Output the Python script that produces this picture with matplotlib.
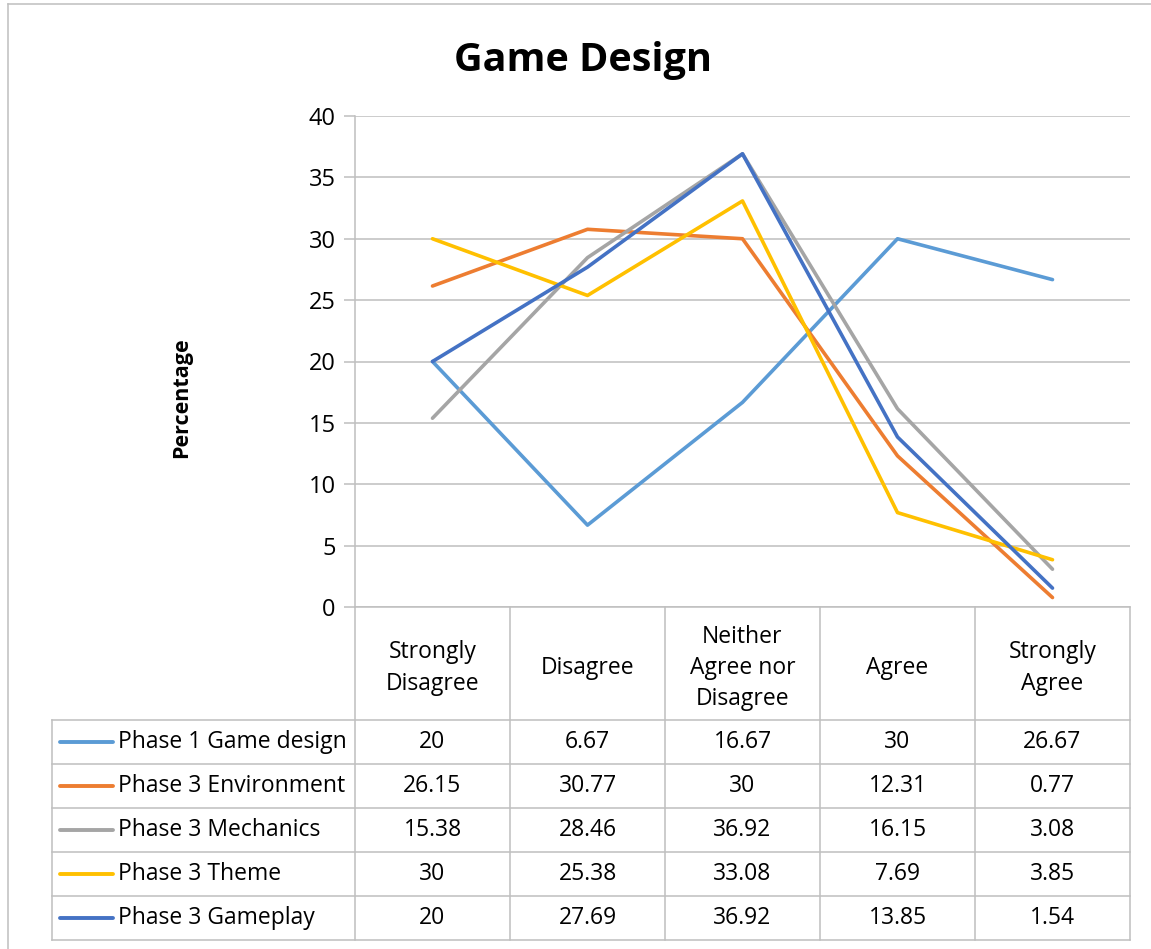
import matplotlib.pyplot as plt
from matplotlib.lines import Line2D

plt.rcParams['font.family'] = ['Open Sans', 'DejaVu Sans']

categories = ["Strongly\nDisagree", "Disagree", "Neither\nAgree nor\nDisagree", "Agree", "Strongly\nAgree"]
series_names = ["Phase 1 Game design", "Phase 3 Environment", "Phase 3 Mechanics",
                "Phase 3 Theme", "Phase 3 Gameplay"]
phase1_game_design = [20, 6.67, 16.67, 30, 26.67]
phase3_environment = [26.15, 30.77, 30, 12.31, 0.77]
phase3_mechanics = [15.38, 28.46, 36.92, 16.15, 3.08]
phase3_theme = [30, 25.38, 33.08, 7.69, 3.85]
phase3_gameplay = [20, 27.69, 36.92, 13.85, 1.54]
yticks = [0, 5, 10, 15, 20, 25, 30, 35, 40]

series = [phase1_game_design, phase3_environment, phase3_mechanics, phase3_theme, phase3_gameplay]
colors = ["#5B9BD5", "#ED7D31", "#A5A5A5", "#FFC000", "#4472C4"]

W, H = 1151, 949
fig = plt.figure(figsize=(W / 100, H / 100), dpi=100)


def fx(px):
    return px / W


def fy(py):
    return 1 - py / H


grid_c = "#BFBFBF"
x0, x1 = 355, 1130
y_top, y_zero = 116, 607
col_w = (x1 - x0) / len(categories)
fs = 16.5

ax = fig.add_axes([fx(x0), fy(y_zero), fx(x1) - fx(x0), fy(y_top) - fy(y_zero)])
for name, vals, c in zip(series_names, series, colors):
    ax.plot(range(len(vals)), vals, color=c, lw=2.6, solid_capstyle='round', zorder=3)
ax.set_xlim(-0.5, len(categories) - 0.5)
ax.set_ylim(0, 40)
ax.set_yticks(yticks)
ax.set_xticks([])
ax.yaxis.grid(True, color=grid_c, lw=1.1)
ax.set_axisbelow(True)
for s in ["top", "right", "bottom"]:
    ax.spines[s].set_visible(False)
ax.spines["left"].set_color(grid_c)
ax.spines["left"].set_linewidth(1.1)
ax.tick_params(axis='y', length=8, color=grid_c, width=1.1, labelsize=17, pad=6)

fig.text(fx(583), fy(60), "Game Design", ha='center', va='center', fontsize=28.5, fontweight='bold')
fig.text(fx(182), fy(398), "Percentage", ha='center', va='center', rotation=90,
         fontsize=15.5, fontweight='bold')


def hline(y, xa, xb):
    fig.add_artist(Line2D([fx(xa), fx(xb)], [fy(y), fy(y)], color=grid_c, lw=1.1))


def vline(x, ya, yb):
    fig.add_artist(Line2D([fx(x), fx(x)], [fy(ya), fy(yb)], color=grid_c, lw=1.1))


# outer chart frame
hline(4, 8, W)
vline(8, 4, H)

# data table
header_bottom = 720
row_h = 44
n_rows = len(series)
table_bottom = header_bottom + row_h * n_rows
legend_left = 52
hline(y_zero, x0, x1)
for i in range(len(categories) + 1):
    vline(x0 + i * col_w, y_zero, table_bottom)
vline(legend_left, header_bottom, table_bottom)
for r in range(n_rows + 1):
    hline(header_bottom + r * row_h, legend_left, x1)

for i, cat in enumerate(categories):
    fig.text(fx(x0 + (i + 0.5) * col_w), fy(668), cat,
             ha='center', va='center', fontsize=fs, linespacing=1.4)

for r, (name, vals, c) in enumerate(zip(series_names, series, colors)):
    yc = header_bottom + (r + 0.5) * row_h
    fig.add_artist(Line2D([fx(60), fx(113)], [fy(yc), fy(yc)], color=c, lw=2.8,
                          solid_capstyle='round'))
    fig.text(fx(118), fy(yc), name, ha='left', va='center', fontsize=fs)
    for i, v in enumerate(vals):
        fig.text(fx(x0 + (i + 0.5) * col_w), fy(yc), f"{v:g}", ha='center', va='center',
                 fontsize=fs)

fig.savefig("out.png", dpi=100)
